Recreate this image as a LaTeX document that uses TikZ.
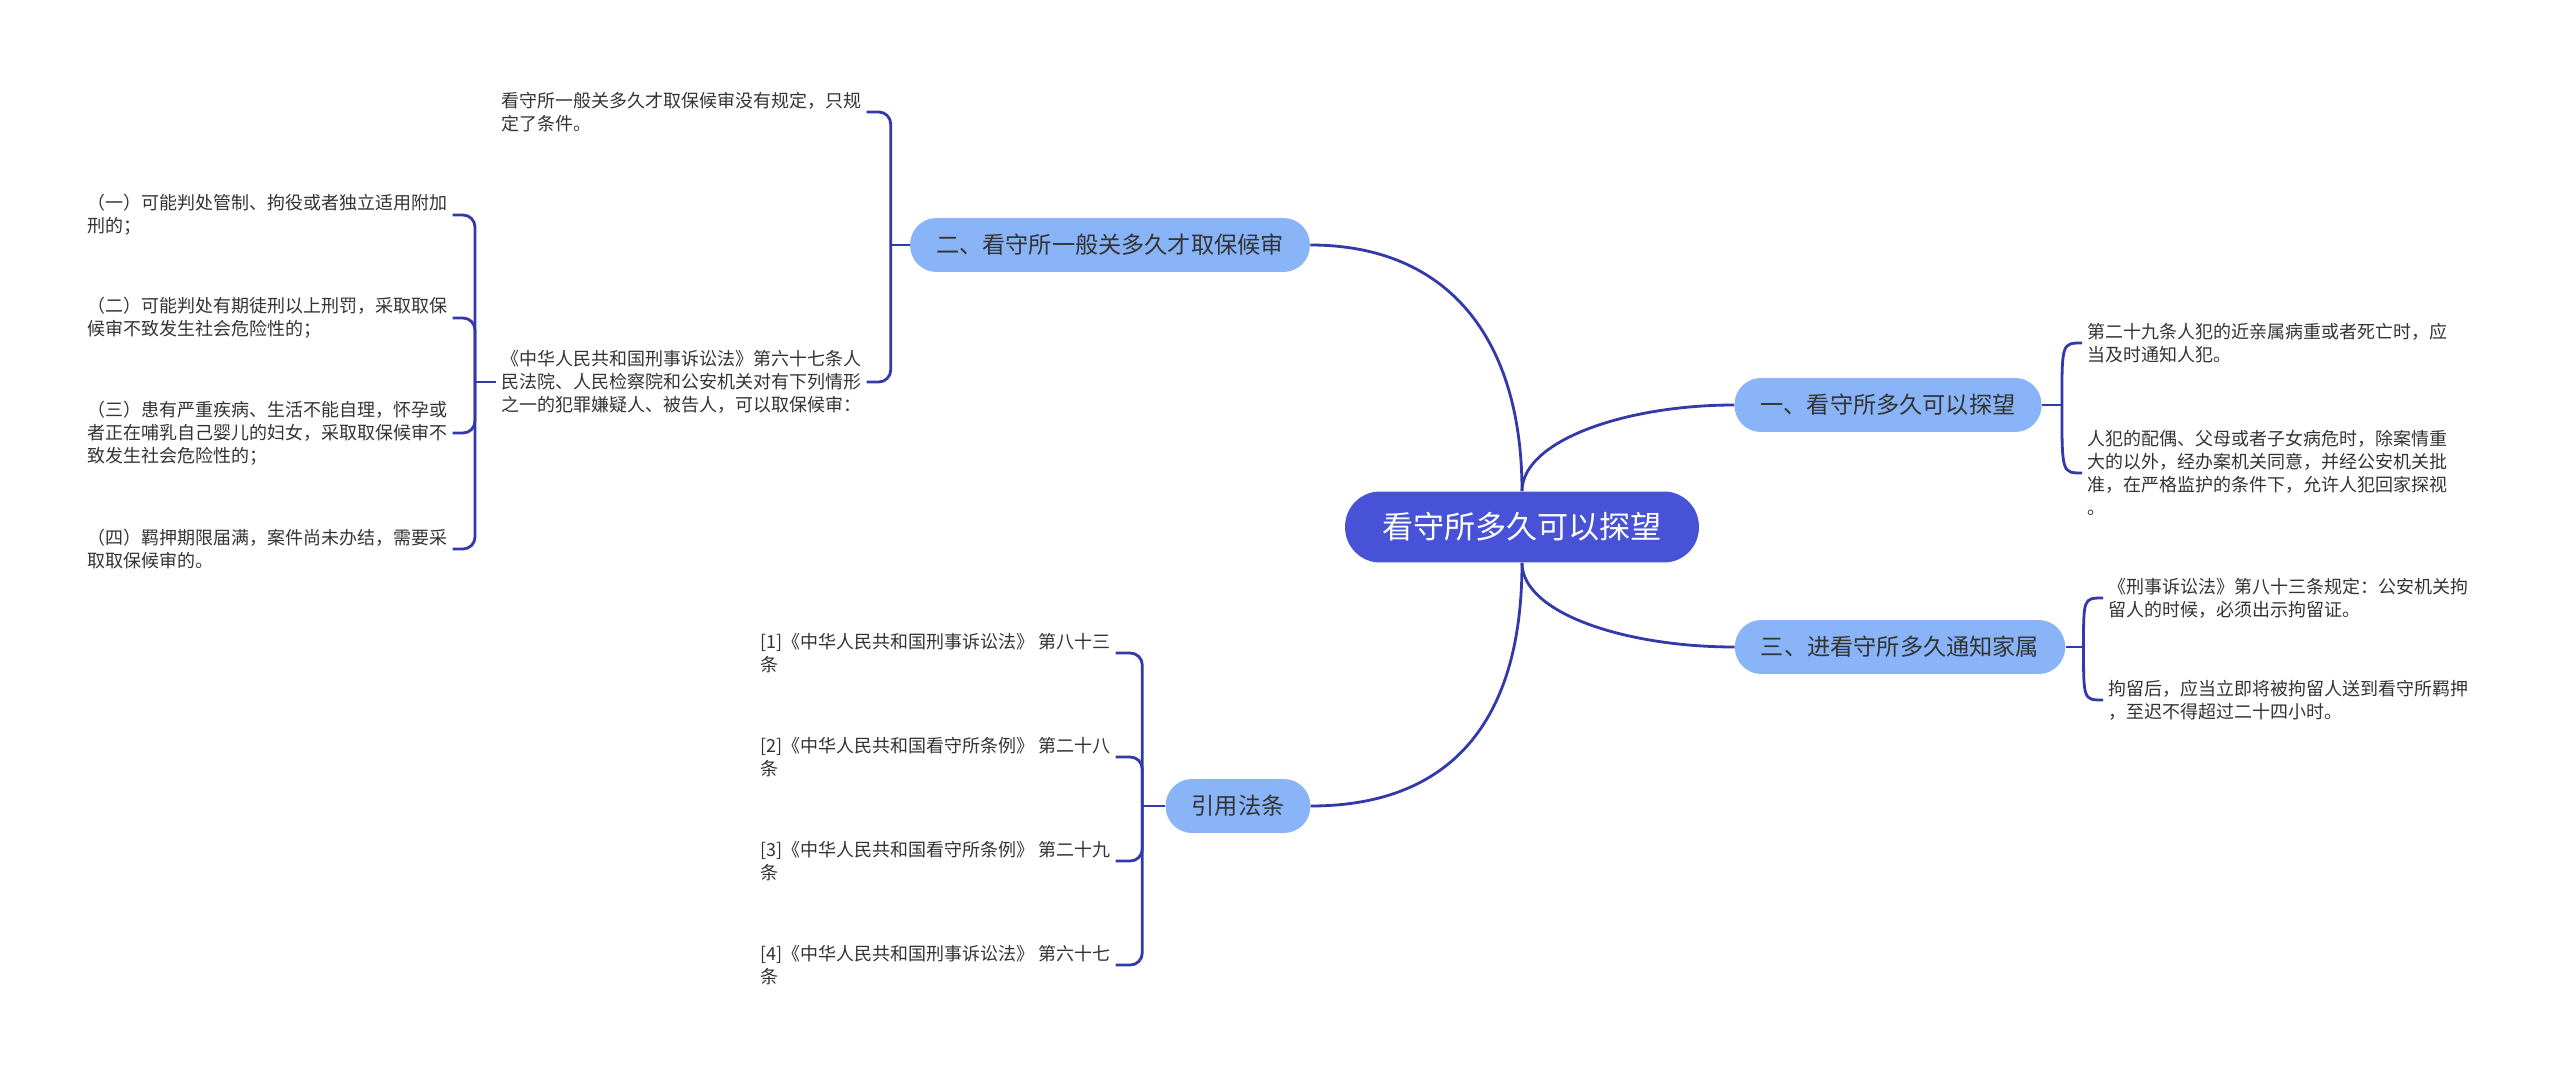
\documentclass[tikz,border=0pt]{standalone}
\usepackage{fontspec}
\setmainfont{Noto Sans CJK SC}
\usetikzlibrary{calc}
\definecolor{rootblue}{HTML}{4852D6}
\definecolor{branchblue}{HTML}{8AB4F8}
\definecolor{linkblue}{HTML}{3239A8}
\definecolor{leafgray}{HTML}{333333}

\begin{document}
\begin{tikzpicture}[x=0.02cm, y=-0.02cm,
    root/.style={fill=rootblue, text=white, rounded corners=0.7cm, minimum height=1.42cm, inner xsep=0.74cm, font=\fontsize{17.7pt}{20pt}\selectfont},
    branch/.style={fill=branchblue, text=leafgray, rounded corners=0.53cm, minimum height=1.08cm, inner xsep=0.52cm, font=\fontsize{13.2pt}{16pt}\selectfont},
    leaf/.style={anchor=west, align=left, text=leafgray, inner sep=0.1cm, font=\fontsize{10.24pt}{13.1pt}\selectfont},
    link/.style={draw=linkblue, line width=1.6pt},
    hook/.style={link, rounded corners=0.24cm}]
    \useasboundingbox (0,0) rectangle (2560,1074);

    % Root and main branches
    \node[root] (cm) at (1522,527) {看守所多久可以探望};
    \node[branch] (b1) at (1888,405) {一、看守所多久可以探望};
    \node[branch] (b2) at (1110,245) {二、看守所一般关多久才取保候审};
    \node[branch] (b3) at (1900,647) {三、进看守所多久通知家属};
    \node[branch] (b4) at (1238,806) {引用法条};

    % Curves from the root
    \draw[link] (cm.north) .. controls +(0,-150) and +(140,0) .. (b2.east);
    \draw[link] (cm.north) .. controls +(0,-50) and +(-110,0) .. (b1.west);
    \draw[link] (cm.south) .. controls +(0,50) and +(-110,0) .. (b3.west);
    \draw[link] (cm.south) .. controls +(0,170) and +(130,0) .. (b4.east);

    % Leaves of branch one
    \node[leaf] (l11) at (2082,343) {第二十九条人犯的近亲属病重或者死亡时，应\\当及时通知人犯。};
    \node[leaf] (l12) at (2082,473) {人犯的配偶、父母或者子女病危时，除案情重\\大的以外，经办案机关同意，并经公安机关批\\准，在严格监护的条件下，允许人犯回家探视\\。};
    \coordinate (j1) at ($(b1.east)+(20,0)$);
    \draw[link] (b1.east) -- (j1);
    \draw[link] (j1) .. controls (j1 |- l11.west) .. (l11.west);
    \draw[link] (j1) .. controls (j1 |- l12.west) .. (l12.west);

    % Leaves of branch two
    \node[leaf] (l21) at (496,112) {看守所一般关多久才取保候审没有规定，只规\\定了条件。};
    \node[leaf] (l22) at (496,382) {《中华人民共和国刑事诉讼法》第六十七条人\\民法院、人民检察院和公安机关对有下列情形\\之一的犯罪嫌疑人、被告人，可以取保候审：};
    \coordinate (j2) at ($(b2.west)+(-19,0)$);
    \draw[link] (b2.west) -- (j2);
    \draw[hook] (j2) |- (l21.east);
    \draw[hook] (j2) |- (l22.east);

    % Items under article 67
    \node[leaf] (l221) at (82,215) {（一）可能判处管制、拘役或者独立适用附加\\刑的；};
    \node[leaf] (l222) at (82,318) {（二）可能判处有期徒刑以上刑罚，采取取保\\候审不致发生社会危险性的；};
    \node[leaf] (l223) at (82,433) {（三）患有严重疾病、生活不能自理，怀孕或\\者正在哺乳自己婴儿的妇女，采取取保候审不\\致发生社会危险性的；};
    \node[leaf] (l224) at (82,549) {（四）羁押期限届满，案件尚未办结，需要采\\取取保候审的。};
    \coordinate (j22) at ($(l22.west)+(-21,0)$);
    \draw[link] (l22.west) -- (j22);
    \foreach \n in {l221,l222,l223,l224}
        \draw[hook] (j22) |- (\n.east);

    % Leaves of branch three
    \node[leaf] (l31) at (2103,598) {《刑事诉讼法》第八十三条规定：公安机关拘\\留人的时候，必须出示拘留证。};
    \node[leaf] (l32) at (2103,700) {拘留后，应当立即将被拘留人送到看守所羁押\\，至迟不得超过二十四小时。};
    \coordinate (j3) at ($(b3.east)+(18,0)$);
    \draw[link] (b3.east) -- (j3);
    \draw[link] (j3) .. controls (j3 |- l31.west) .. (l31.west);
    \draw[link] (j3) .. controls (j3 |- l32.west) .. (l32.west);

    % Cited articles
    \node[leaf] (r1) at (755,653) {[1]《中华人民共和国刑事诉讼法》 第八十三\\条};
    \node[leaf] (r2) at (755,757) {[2]《中华人民共和国看守所条例》 第二十八\\条};
    \node[leaf] (r3) at (755,861) {[3]《中华人民共和国看守所条例》 第二十九\\条};
    \node[leaf] (r4) at (755,965) {[4]《中华人民共和国刑事诉讼法》 第六十七\\条};
    \coordinate (j4) at ($(b4.west)+(-23,0)$);
    \draw[link] (b4.west) -- (j4);
    \foreach \n in {r1,r2,r3,r4}
        \draw[hook] (j4) |- (\n.east);

\end{tikzpicture}
\end{document}
